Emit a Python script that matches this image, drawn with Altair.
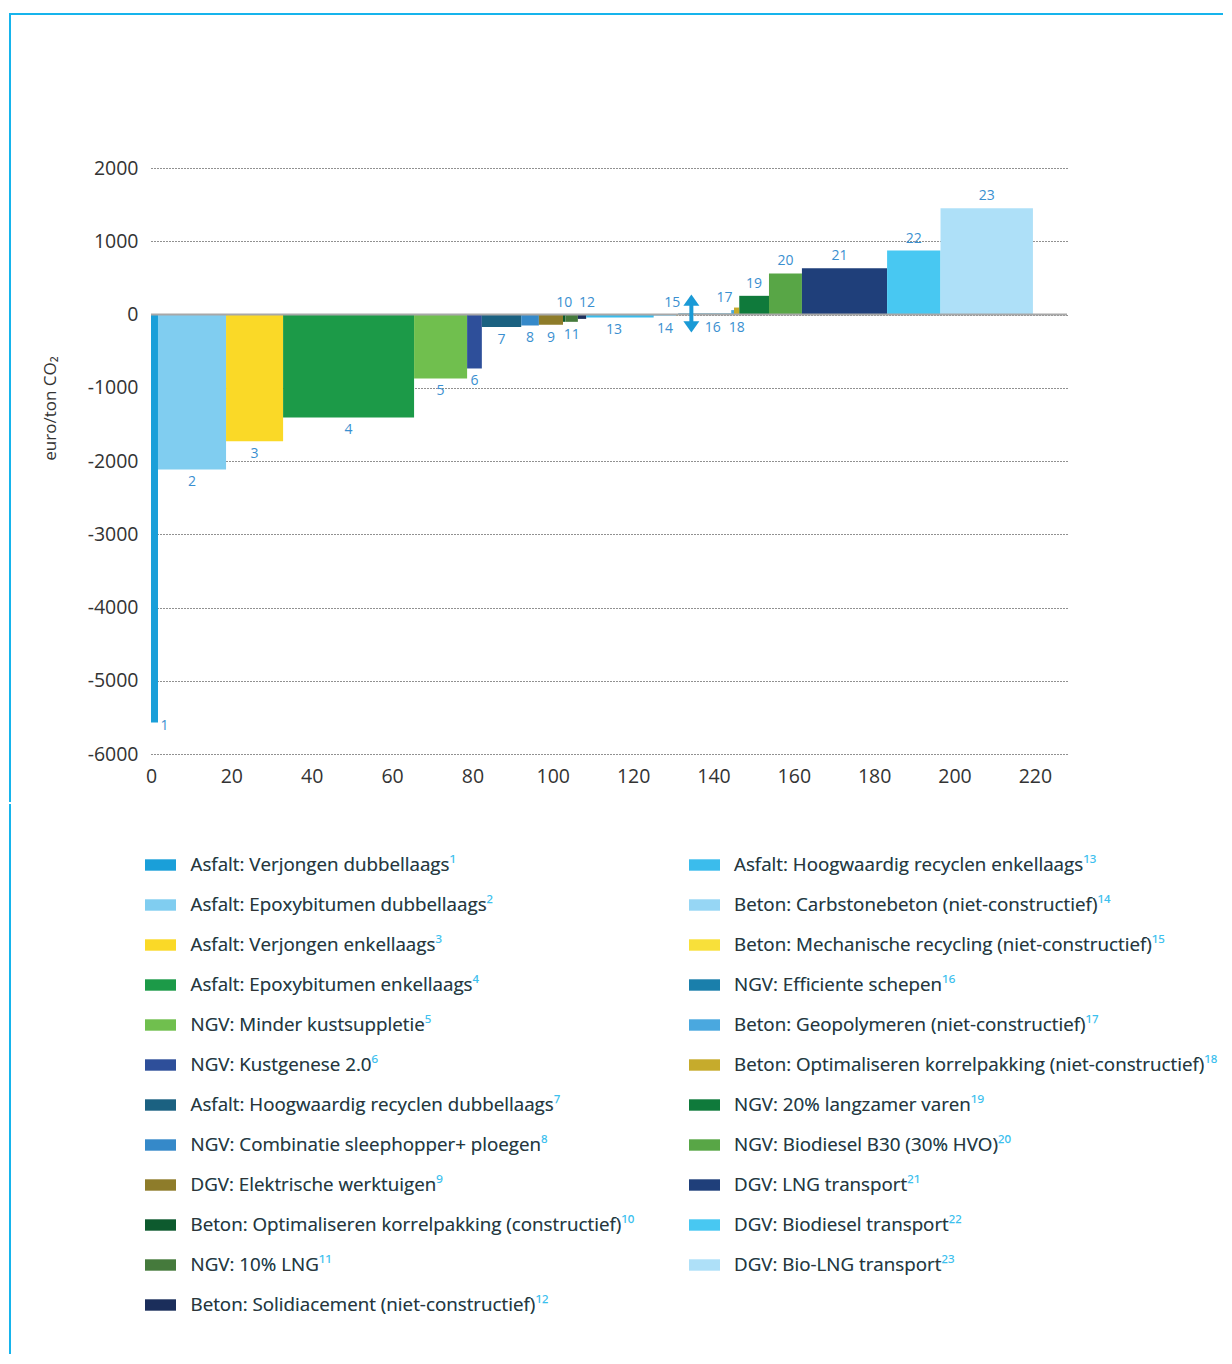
import altair as alt
import pandas as pd

# ---------------- data ----------------
ids = list(range(1, 24))
names = [
    "Asfalt: Verjongen dubbellaags",
    "Asfalt: Epoxybitumen dubbellaags",
    "Asfalt: Verjongen enkellaags",
    "Asfalt: Epoxybitumen enkellaags",
    "NGV: Minder kustsuppletie",
    "NGV: Kustgenese 2.0",
    "Asfalt: Hoogwaardig recyclen dubbellaags",
    "NGV: Combinatie sleephopper+ ploegen",
    "DGV: Elektrische werktuigen",
    "Beton: Optimaliseren korrelpakking (constructief)",
    "NGV: 10% LNG",
    "Beton: Solidiacement (niet-constructief)",
    "Asfalt: Hoogwaardig recyclen enkellaags",
    "Beton: Carbstonebeton (niet-constructief)",
    "Beton: Mechanische recycling (niet-constructief)",
    "NGV: Efficiente schepen",
    "Beton: Geopolymeren (niet-constructief)",
    "Beton: Optimaliseren korrelpakking (niet-constructief)",
    "NGV: 20% langzamer varen",
    "NGV: Biodiesel B30 (30% HVO)",
    "DGV: LNG transport",
    "DGV: Biodiesel transport",
    "DGV: Bio-LNG transport",
]
widths = [1.74, 16.94, 14.2, 32.6, 13.2, 3.67, 9.8, 4.4, 6.0, 0.6, 3.1, 2.07,
          16.8, 5.6, 0.5, 13.2, 0.7, 1.3, 7.4, 8.2, 21.2, 13.3, 23.0]
values = [-5570, -2115, -1730, -1405, -873, -737, -172, -150, -140, -100, -100, -60,
          -40, -20, -10, 15, 60, 95, 255, 560, 632, 873, 1450]
colors = ["#1a9fd9", "#80cdf0", "#fad927", "#1c9a48", "#70bf4e", "#2e4f9a",
          "#1b6181", "#3589c9", "#8e7c2a", "#0d5a2e", "#457a3c", "#1b2e5b",
          "#3bbcec", "#96d6f4", "#f8e03a", "#1a7fab", "#4aa8df", "#c6ab2c",
          "#0f7a3b", "#58a646", "#1f3f7a", "#48c8f2", "#aee0f8"]
label_side = ["right"] + ["below"] * 8 + ["above", "below", "above", "below", "below",
              "above", "below", "above", "below"] + ["above"] * 5
label_dx = [10, 0, 0, 0, 0, 0, 0, 0, 0, 0, 0, 5, -6, 0, -5, 8, -8, 0, 0, 0, -5, 0, 0]

arrow_x = 134.5
arrow_top = 273
arrow_bottom = -245

x_ticks = list(range(0, 221, 20))
y_ticks = list(range(-6000, 2001, 1000))

FONT = "Open Sans"
TXT = "#333333"
LBL = "#3a8fd0"
SUP = "#3cc0ee"
FRAME = "#16b4ec"

W, H = 916, 586
X_DOM = [0, 228]
Y_DOM = [-6000, 2000]
ux = (X_DOM[1] - X_DOM[0]) / W   # data units per pixel
uy = (Y_DOM[1] - Y_DOM[0]) / H

# ---------------- tables ----------------
rows = []
end = 0.0
for i, (w, v) in enumerate(zip(widths, values)):
    start = end
    end = start + w
    side = label_side[i]
    if side == "below":
        base_y, dy = min(v, 0), 13
    elif side == "above":
        base_y, dy = max(v, 0), -12
    else:
        base_y, dy = v, 3
    rows.append(dict(id=ids[i], name=names[i], start=start, end=end, value=v,
                     color=colors[i],
                     lx=(start + end) / 2 + label_dx[i] * ux,
                     ly=base_y - dy * uy,
                     lab=str(ids[i])))
df = pd.DataFrame(rows)

xs = alt.Scale(domain=X_DOM, nice=False, zero=False)
ys = alt.Scale(domain=Y_DOM, nice=False)

base = alt.Chart(df)

bars = base.mark_rect().encode(
    x=alt.X("start:Q", scale=xs,
            axis=alt.Axis(values=x_ticks, title=None, grid=False, domain=False,
                          ticks=False, labelPadding=13, labelFontSize=19.5,
                          labelFlush=False,
                          labelFont=FONT, labelColor=TXT)),
    x2="end:Q",
    y=alt.Y("value:Q", scale=ys,
            axis=alt.Axis(values=y_ticks, title="euro/ton CO₂", grid=True,
                          labelExpr="'' + datum.value",
                          gridDash=[1, 2], gridColor="#222222", gridWidth=1,
                          domain=False, ticks=False, labelPadding=13,
                          labelFontSize=19.5, labelFont=FONT, labelColor=TXT,
                          titleFont=FONT, titleFontSize=17, titleColor=TXT,
                          titleFontWeight="normal", titleX=-101, titleY=240,
                          titleAngle=-90, titleAlign="center",
                          titleBaseline="middle")),
    y2=alt.Y2(datum=0),
    color=alt.Color("color:N", scale=None),
)

zero_df = pd.DataFrame({"x": [X_DOM[0]], "x2": [X_DOM[1]], "y": [0]})
zero = alt.Chart(zero_df).mark_rule(color="#a8a8a8", strokeWidth=2).encode(
    x="x:Q", x2="x2:Q", y="y:Q")

labels = base.mark_text(font=FONT, fontSize=14, color=LBL, baseline="middle",
                        align="center").encode(
    x="lx:Q", y="ly:Q", text="lab:N")

arr_df = pd.DataFrame({"x": [arrow_x], "top": [arrow_top], "bottom": [arrow_bottom],
                       "s_top": [arrow_top - 110], "s_bot": [arrow_bottom + 110]})
shaft = alt.Chart(arr_df).mark_rule(color="#1a9ad6", strokeWidth=4).encode(
    x="x:Q", y="s_top:Q", y2="s_bot:Q")
head_up = alt.Chart(arr_df).mark_point(
    shape="M0,0 L1,1.4 L-1,1.4 Z", size=256, filled=True, opacity=1,
    color="#1a9ad6").encode(x="x:Q", y="top:Q")
head_dn = alt.Chart(arr_df).mark_point(
    shape="M0,0 L1,-1.4 L-1,-1.4 Z", size=256, filled=True, opacity=1,
    color="#1a9ad6").encode(x="x:Q", y="bottom:Q")

one = pd.DataFrame({"a": [0]})
frame_top = alt.Chart(one).mark_rule(color=FRAME, strokeWidth=2).encode(
    x=alt.value(-142), x2=alt.value(1072), y=alt.value(-154))
frame_left = alt.Chart(one).mark_rule(color=FRAME, strokeWidth=2).encode(
    x=alt.value(-141), y=alt.value(-155), y2=alt.value(634))

top = alt.layer(bars, zero, labels, shaft, head_up, head_dn, frame_top,
                frame_left).properties(width=W, height=H)

# ---------------- legend ----------------
sup_map = str.maketrans("0123456789", "⁰¹²³⁴⁵⁶⁷⁸⁹")
col_swatch = [-6, 538]
col_text = [39.5, 583]
row0, row_step = 61, 40
leg = []
for i, n in enumerate(names):
    c = 0 if i < 12 else 1
    r = i if i < 12 else i - 12
    yy = row0 + row_step * r
    leg.append(dict(name=n, full=n + str(ids[i]).translate(sup_map), color=colors[i],
                    sx=col_swatch[c], sx2=col_swatch[c] + 31, sy=yy - 5.7,
                    sy2=yy + 5.7, tx=col_text[c], ty=yy))
ldf = pd.DataFrame(leg)
LH = 550
lxs = alt.Scale(domain=[0, W], nice=False)
lys = alt.Scale(domain=[0, LH], nice=False, reverse=True)
lbase = alt.Chart(ldf)
sw = lbase.mark_rect().encode(
    x=alt.X("sx:Q", scale=lxs, axis=None), x2="sx2:Q",
    y=alt.Y("sy:Q", scale=lys, axis=None), y2="sy2:Q",
    color=alt.Color("color:N", scale=None))
t_full = lbase.mark_text(font=FONT, fontSize=18.8, color=SUP, align="left",
                         baseline="middle").encode(
    x=alt.X("tx:Q", scale=lxs, axis=None), y=alt.Y("ty:Q", scale=lys, axis=None),
    text="full:N")
t_name = lbase.mark_text(font=FONT, fontSize=18.8, color=TXT, align="left",
                         baseline="middle").encode(
    x=alt.X("tx:Q", scale=lxs, axis=None), y=alt.Y("ty:Q", scale=lys, axis=None),
    text="name:N")
frame_left2 = alt.Chart(one).mark_rule(color=FRAME, strokeWidth=2).encode(
    x=alt.value(-141), y=alt.value(0), y2=alt.value(LH))
legend = alt.layer(sw, t_full, t_name, frame_left2).properties(width=W, height=LH)

chart = alt.vconcat(top, legend, spacing=0).properties(
    padding={"left": 0, "top": 4, "right": 0, "bottom": 0}
).configure_view(stroke=None)

chart.save("out.html", embed_options={"renderer": "svg", "actions": False})
